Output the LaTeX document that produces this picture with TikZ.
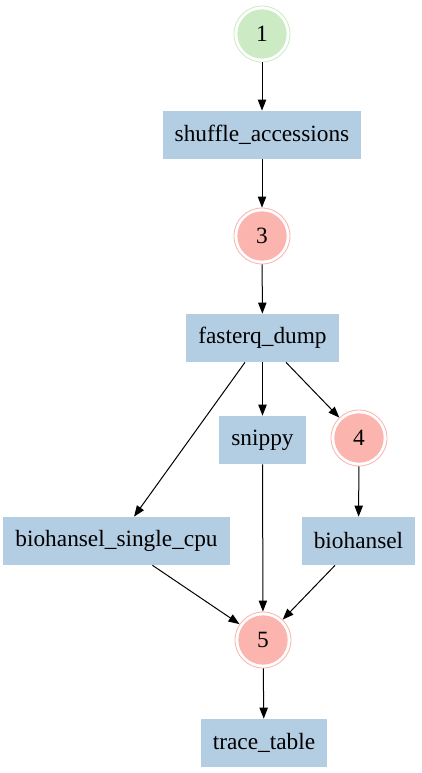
\documentclass[tikz,border=0pt]{standalone}
\usepackage{fontspec}
\setmainfont{Liberation Serif}
\usetikzlibrary{arrows.meta}
\definecolor{pgreen}{HTML}{CCEBC5}
\definecolor{pred}{HTML}{FBB4AE}
\definecolor{pblue}{HTML}{B3CDE3}
\tikzset{
  task/.style={rectangle, fill=pblue, draw=none, inner xsep=7.2pt, inner ysep=0pt, minimum height=28.8pt, font=\fontsize{14pt}{16pt}\selectfont},
  ring/.style={circle, minimum size=33.6pt, inner sep=0pt, draw=#1, line width=0.5pt, fill=white, font=\fontsize{14pt}{16pt}\selectfont,
    path picture={\fill[#1] (path picture bounding box.center) circle (14.8pt);}},
  conn/.style={-{Triangle[length=6.6pt,width=5pt]}, line width=0.6pt, black}
}
\begin{document}
\begin{tikzpicture}[x=0.6pt,y=-0.6pt]
\useasboundingbox (0,0) rectangle (421,773);
\node[ring=pgreen] (n1) at (262,34) {1};
\node[task] (shuffle) at (262,135) {shuffle\_accessions};
\node[ring=pred] (n3) at (262,236) {3};
\node[task] (fasterq) at (262.5,338) {fasterq\_dump};
\node[task] (snippy) at (262.5,440) {snippy};
\node[ring=pred] (n4) at (359,438) {4};
\node[task] (bsc) at (116.5,541) {biohansel\_single\_cpu};
\node[task] (biohansel) at (358.5,541) {biohansel};
\node[ring=pred] (n5) at (263,640) {5};
\node[task] (trace) at (264,743) {trace\_table};
\draw[conn] (n1) -- (shuffle);
\draw[conn] (shuffle) -- (n3);
\draw[conn] (n3) -- (fasterq);
\draw[conn] (fasterq) -- (snippy);
\draw[conn] (fasterq) -- (bsc);
\draw[conn] (fasterq) -- (n4);
\draw[conn] (snippy) -- (n5);
\draw[conn] (n4) -- (biohansel);
\draw[conn] (bsc) -- (n5);
\draw[conn] (biohansel) -- (n5);
\draw[conn] (n5) -- (trace);
\end{tikzpicture}
\end{document}
